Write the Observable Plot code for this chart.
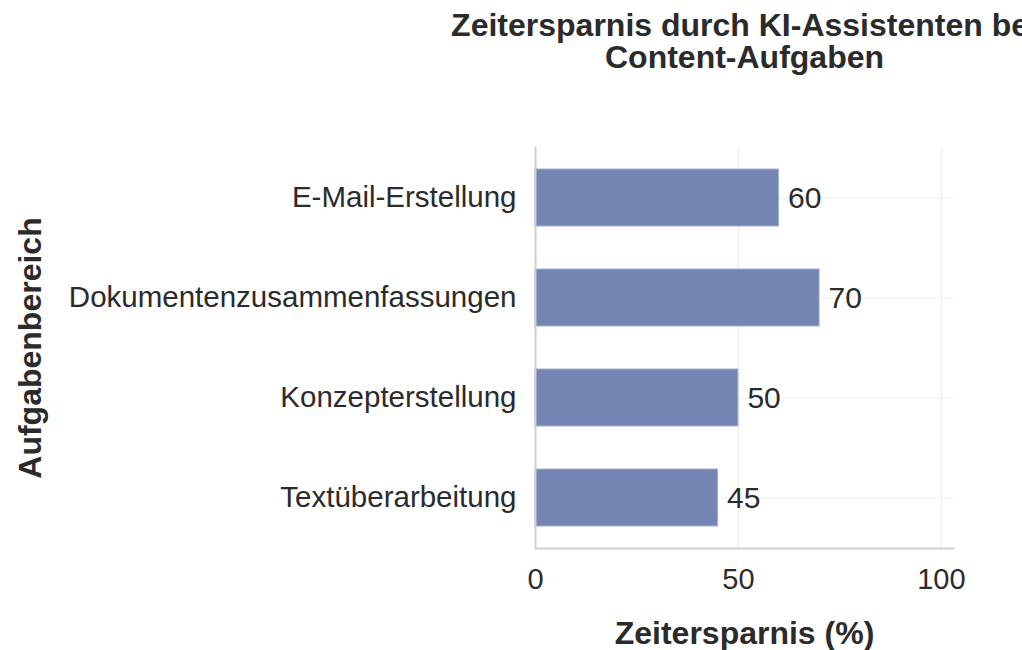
<!DOCTYPE html>
<html>
<head>
<meta charset="utf-8">
<script src="https://cdn.jsdelivr.net/npm/d3@7"></script>
<script src="https://cdn.jsdelivr.net/npm/@observablehq/plot@0.6"></script>
<style>
  html, body { margin: 0; padding: 0; background: #fff; }
  #chart svg { display: block; }
</style>
</head>
<body>
<div id="chart"></div>
<script>
const titleText = "Zeitersparnis durch KI-Assistenten bei\nContent-Aufgaben";
const xTitle = "Zeitersparnis (%)";
const yTitle = "Aufgabenbereich";
const categories = ["E-Mail-Erstellung", "Dokumentenzusammenfassungen", "Konzepterstellung", "Textüberarbeitung"];
const values = [60, 70, 50, 45];
const xTicks = [0, 50, 100];

const data = categories.map((c, i) => ({ task: c, value: values[i] }));
const font = "'Liberation Sans', Arial, Helvetica, sans-serif";
const textColor = "#2b2b2b";

const chart = Plot.plot({
  width: 1022,
  height: 650,
  marginLeft: 535,
  marginRight: 69,
  marginTop: 147,
  marginBottom: 102,
  style: { fontFamily: font, background: "#fff", color: textColor },
  x: { domain: [0, 103], ticks: xTicks, label: null },
  y: { domain: categories, paddingInner: 0.43, paddingOuter: 0.215, label: null },
  marks: [
    Plot.gridX(xTicks, { stroke: "#ececec", strokeOpacity: 1, strokeWidth: 1 }),
    Plot.gridY(categories, { stroke: "#f0f0f0", strokeOpacity: 1, strokeWidth: 1 }),
    Plot.barX(data, { x: "value", y: "task", fill: "#7485b3", stroke: "#a5b0d2", strokeWidth: 1 }),
    Plot.text(data, { x: "value", y: "task", text: d => String(d.value), textAnchor: "start", dx: 9, fontSize: 30, fill: textColor }),
    Plot.axisX(xTicks, { tickSize: 0, tickPadding: 20, fontSize: 29, fill: textColor, label: null }),
    Plot.axisY({ tickSize: 0, tickPadding: 19, fontSize: 29.5, fill: textColor, label: null }),
    Plot.frame({ anchor: "left", stroke: "#cfcfcf", strokeWidth: 2 }),
    Plot.frame({ anchor: "bottom", stroke: "#cfcfcf", strokeWidth: 2 }),
    Plot.text([titleText], { frameAnchor: "top", textAnchor: "middle", lineAnchor: "top", lineHeight: 1, dy: -134, fontSize: 32, fontWeight: "bold", fill: textColor }),
    Plot.text([xTitle], { frameAnchor: "bottom", textAnchor: "middle", lineAnchor: "middle", dy: 85, fontSize: 32, fontWeight: "bold", fill: textColor }),
    Plot.text([yTitle], { frameAnchor: "left", textAnchor: "middle", lineAnchor: "middle", rotate: -90, dx: -505, fontSize: 32, fontWeight: "bold", fill: textColor })
  ]
});
document.getElementById("chart").appendChild(chart);
</script>
</body>
</html>
